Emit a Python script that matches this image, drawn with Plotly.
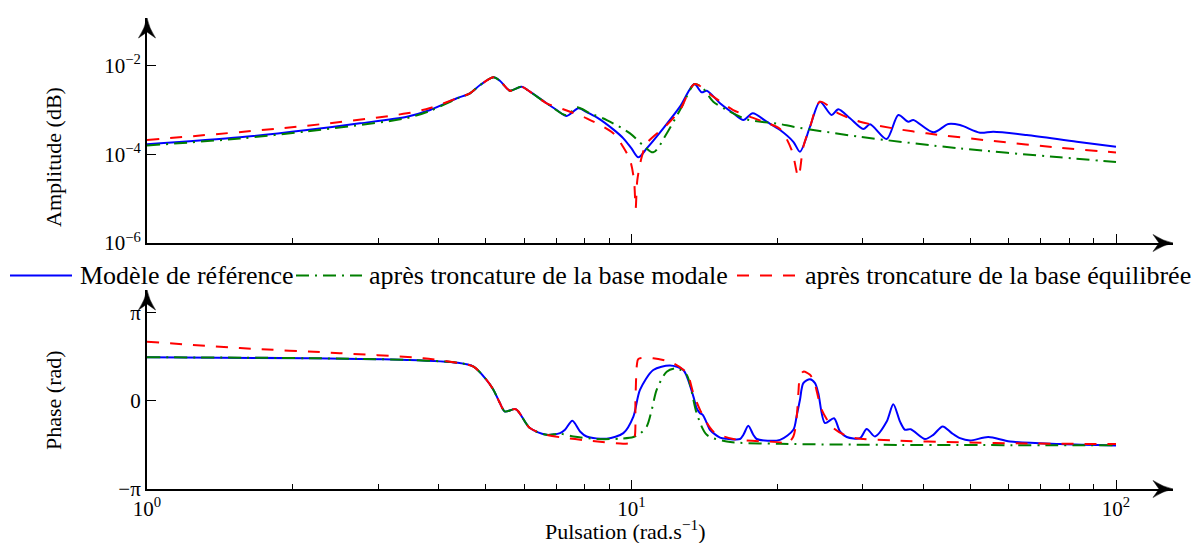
import numpy as np
import plotly.graph_objects as go

# ---------------- data ----------------
# Reference model (amplitude)
w_ref_amp = [1.00, 1.556, 2.14, 2.75, 3.44, 3.84, 4.36, 4.64, 4.87, 5.19, 5.35, 5.61, 5.93, 6.17,
             6.68, 7.01, 7.35, 7.77, 8.08, 8.48, 9.17, 9.62, 10.0, 10.33, 10.75, 11.63, 12.59,
             13.48, 13.96, 14.30, 15.23, 16.22, 17.02, 17.79, 19.01, 20.26, 21.58, 22.27, 23.36,
             24.49, 25.89, 26.72, 28.25, 30.09, 31.07, 33.63, 35.54, 37.27, 38.16, 41.97, 45.07,
             47.64, 52.41, 55.81, 65.42, 82.97, 100.0]
amp_ref = [1.68e-4, 2.42e-4, 3.54e-4, 5.01e-4, 7.06e-4, 1.0e-3, 1.84e-3, 2.38e-3, 3.66e-3, 5.47e-3,
           4.58e-3, 2.73e-3, 3.36e-3, 2.59e-3, 1.42e-3, 1.0e-3, 7.33e-4, 1.09e-3, 9.0e-4, 6.84e-4,
           3.66e-4, 2.30e-4, 1.36e-4, 8.55e-5, 1.36e-4, 3.86e-4, 1.19e-3, 3.86e-3, 2.51e-3, 2.73e-3,
           1.42e-3, 8.43e-4, 5.94e-4, 8.43e-4, 5.45e-4, 3.54e-4, 1.92e-4, 1.15e-4, 4.20e-4, 1.54e-3,
           7.71e-4, 1.04e-3, 6.50e-4, 3.72e-4, 4.75e-4, 2.21e-4, 7.71e-4, 5.45e-4, 5.94e-4, 3.14e-4,
           4.83e-4, 4.58e-4, 3.08e-4, 3.24e-4, 2.73e-4, 1.92e-4, 1.49e-4]

# Modal truncation (amplitude)
w_mod_amp = [1.00, 1.556, 2.14, 3.44, 3.84, 4.36, 4.64, 4.87, 5.19, 5.35, 5.61, 5.93, 6.17, 6.68,
             7.35, 7.71, 8.21, 8.89, 9.93, 10.55, 11.09, 11.88, 12.70, 13.5, 14.0, 14.75, 15.73,
             17.29, 20.26, 21.58, 29.62, 47.64, 76.62, 100.0]
amp_mod = [1.58e-4, 2.28e-4, 3.30e-4, 6.59e-4, 9.6e-4, 1.80e-3, 2.38e-3, 3.66e-3, 5.47e-3, 4.58e-3,
           2.73e-3, 3.36e-3, 2.59e-3, 1.42e-3, 7.6e-4, 1.15e-3, 8.43e-4, 5.94e-4, 2.98e-4, 1.62e-4,
           1.11e-4, 3.24e-4, 1.19e-3, 3.86e-3, 3.2e-3, 1.54e-3, 1.0e-3, 6.16e-4, 4.83e-4, 4.20e-4,
           2.49e-4, 1.36e-4, 8.55e-5, 6.70e-5]

# Balanced truncation (amplitude)
w_bal_amp = [1.00, 2.14, 3.44, 3.84, 4.36, 4.64, 4.87, 5.19, 5.35, 5.61, 5.93, 6.17, 6.68, 7.23,
             8.08, 9.17, 9.62, 9.93, 10.12, 10.20, 10.28, 10.50, 10.75, 11.82, 12.59, 13.5, 14.75,
             16.22, 18.71, 20.26, 21.41, 22.10, 22.63, 23.36, 24.49, 26.72, 29.62, 34.70, 40.67,
             55.81, 76.62, 100.0]
amp_bal = [2.10e-4, 4.43e-4, 8.43e-4, 1.11e-3, 1.84e-3, 2.38e-3, 3.66e-3, 5.47e-3, 4.58e-3, 2.73e-3,
           3.36e-3, 2.59e-3, 1.42e-3, 1.04e-3, 6.50e-4, 2.98e-4, 1.44e-4, 7.43e-5, 2.63e-5, 6.04e-6,
           2.63e-5, 8.83e-5, 1.77e-4, 4.58e-4, 1.0e-3, 3.86e-3, 2.0e-3, 1.0e-3, 5.45e-4, 3.72e-4,
           1.25e-4, 3.12e-5, 1.49e-4, 4.20e-4, 1.54e-3, 8.43e-4, 5.45e-4, 3.86e-4, 2.98e-4, 2.0e-4,
           1.41e-4, 1.10e-4]

# Reference model (phase, rad)
w_ref_ph = [1.00, 2.14, 3.44, 4.36, 4.72, 5.02, 5.19, 5.35, 5.48, 5.77, 6.17, 6.68, 7.12, 7.29, 7.55,
            7.83, 8.08, 8.89, 9.62, 10.09, 10.41, 11.09, 12.01, 12.79, 13.42, 13.63, 13.85, 14.03,
            14.30, 14.52, 15.23, 15.73, 16.75, 17.02, 17.42, 17.84, 18.13, 20.26, 21.58, 21.93,
            22.27, 22.63, 23.36, 23.92, 24.30, 25.08, 26.18, 26.93, 27.81, 29.62, 30.58, 31.81,
            33.63, 34.70, 35.83, 36.69, 37.70, 40.35, 41.97, 43.88, 45.81, 47.64, 49.97, 54.50,
            60.41, 76.62, 100.0]
ph_ref = [1.555, 1.52, 1.46, 1.36, 1.22, 0.75, 0.39, -0.08, -0.38, -0.30, -0.97, -1.21, -1.15, -1.03,
          -0.71, -1.09, -1.27, -1.35, -1.15, -0.56, 0.39, 1.10, 1.26, 1.10, 0.15, -0.26, -0.44, -0.50,
          -0.79, -1.03, -1.31, -1.35, -1.36, -1.21, -0.89, -1.21, -1.36, -1.39, -1.03, -0.52, 0.04,
          0.63, 0.77, 0.63, 0.27, -0.79, -0.62, -1.09, -1.29, -1.33, -1.0, -1.27, -0.74, -0.12,
          -0.74, -1.03, -1.01, -1.36, -1.21, -0.91, -1.15, -1.33, -1.41, -1.29, -1.45, -1.54, -1.59]

# Modal truncation (phase, rad)
w_mod_ph = [1.00, 2.14, 3.44, 4.36, 4.72, 5.02, 5.19, 5.35, 5.48, 5.77, 6.17, 6.68, 7.12, 7.59, 8.48,
            9.47, 10.09, 10.41, 10.75, 11.01, 11.27, 11.82, 12.40, 13.0, 13.31, 13.63, 14.30, 15.73,
            20.26, 35.83, 100.0]
ph_mod = [1.555, 1.52, 1.46, 1.36, 1.22, 0.75, 0.39, -0.08, -0.38, -0.30, -0.97, -1.21, -1.17, -1.27,
          -1.36, -1.35, -1.29, -1.17, -0.91, -0.32, 0.39, 1.04, 1.16, 0.93, 0.32, -0.44, -1.21, -1.45,
          -1.53, -1.57, -1.58]

# Balanced truncation (phase, rad)
w_bal_ph = [1.00, 1.556, 2.50, 3.72, 4.36, 4.72, 5.02, 5.19, 5.35, 5.48, 5.77, 6.17, 6.68, 7.35, 8.21,
            9.62, 9.93, 10.12, 10.19, 10.26, 10.33, 11.09, 12.20, 13.0, 13.42, 13.85, 14.75, 16.22,
            20.26, 20.91, 21.58, 21.93, 22.10, 22.27, 22.63, 23.36, 23.92, 24.70, 26.10, 28.25,
            34.70, 47.64, 65.42, 100.0]
ph_bal = [2.11, 1.88, 1.70, 1.52, 1.36, 1.22, 0.75, 0.39, -0.08, -0.38, -0.30, -0.97, -1.21, -1.33,
          -1.42, -1.53, -1.50, -1.39, 0.04, 1.28, 1.49, 1.52, 1.34, 0.99, 0.27, -0.32, -1.09, -1.36,
          -1.48, -1.54, -1.27, -0.56, 0.27, 0.86, 1.04, 0.93, 0.57, -0.32, -0.97, -1.29, -1.41,
          -1.48, -1.52, -1.54]

labels = ["Modèle de référence",
          "après troncature de la base modale",
          "après troncature de la base équilibrée"]

# ---------------- styling ----------------
BLUE, GREEN, RED = "#0000ff", "#007f00", "#ff0000"
DASH_MOD = "13px,6px,2px,6px"
DASH_BAL = "12px,11px"
FONT = "'Liberation Serif', 'Times New Roman', 'DejaVu Serif', serif"

W, H = 1199, 543
ML, MR, MT, MB = 147, 26, 18, 54
PW, PH = W - ML - MR, H - MT - MB
Y_AMP_BOT, Y_PH_TOP = 243, 290      # pixel rows of the two sub-axes


def paper(x, y):
    """pixel position -> paper coordinates"""
    return (x - ML) / PW, (H - MB - y) / PH


amp_dom = [paper(0, Y_AMP_BOT)[1], 1.0]
ph_dom = [0.0, paper(0, Y_PH_TOP)[1]]

px_per_dec_y = (Y_AMP_BOT - 65.7) / 4.0
amp_top = -6 + (Y_AMP_BOT - MT) / px_per_dec_y
px_per_rad = (H - MB - 312.7) / (2 * np.pi)
ph_top = -np.pi + (H - MB - Y_PH_TOP) / px_per_rad
x_top = np.log10(100) * PW / (1116 - ML)

fig = go.Figure()
series = [
    (w_ref_amp, amp_ref, w_ref_ph, ph_ref, BLUE, "solid"),
    (w_mod_amp, amp_mod, w_mod_ph, ph_mod, GREEN, DASH_MOD),
    (w_bal_amp, amp_bal, w_bal_ph, ph_bal, RED, DASH_BAL),
]
for (wa, a, wp, p, col, dash), name in zip(series, labels):
    fig.add_trace(go.Scatter(x=wa, y=a, mode="lines", name=name, showlegend=False,
                             line=dict(color=col, width=2, dash=dash, shape="spline", smoothing=0.8),
                             xaxis="x", yaxis="y"))
    fig.add_trace(go.Scatter(x=wp, y=p, mode="lines", name=name, showlegend=False,
                             line=dict(color=col, width=2, dash=dash, shape="spline", smoothing=0.8),
                             xaxis="x2", yaxis="y2"))

minor_vals = [m * 10 ** d for d in (0, 1) for m in range(2, 10)]
common_x = dict(type="log", range=[0, x_top], domain=[0, 1], showline=True, linecolor="black",
                linewidth=2, ticks="inside", ticklen=9, tickwidth=1.2, tickcolor="black",
                tickmode="array", tickvals=[1, 10, 100], showgrid=False, zeroline=False,
                minor=dict(ticks="inside", ticklen=5, tickwidth=1.2, tickcolor="black",
                           tickmode="array", tickvals=minor_vals, showgrid=False))
tick_font = dict(family=FONT, size=21, color="black")

fig.update_layout(
    width=W, height=H, margin=dict(l=ML, r=MR, t=MT, b=MB, pad=0),
    paper_bgcolor="white", plot_bgcolor="white", showlegend=False,
    font=dict(family=FONT, color="black"),
    xaxis=dict(anchor="y", showticklabels=False, **common_x),
    xaxis2=dict(anchor="y2", matches="x", showticklabels=True,
                ticktext=["10<sup>0</sup>", "10<sup>1</sup>", "10<sup>2</sup>"],
                tickfont=tick_font, **common_x),
    yaxis=dict(type="log", domain=amp_dom, range=[-6, amp_top], anchor="x",
               showline=True, linecolor="black", linewidth=2, ticks="inside", ticklen=9,
               tickwidth=1.2, tickcolor="black", tickmode="array",
               tickvals=[1e-6, 1e-4, 1e-2],
               ticktext=["10<sup>−6</sup>", "10<sup>−4</sup>", "10<sup>−2</sup>"],
               tickfont=tick_font, showgrid=False, zeroline=False),
    yaxis2=dict(domain=ph_dom, range=[-np.pi, ph_top], anchor="x2",
                showline=True, linecolor="black", linewidth=2, ticks="inside", ticklen=9,
                tickwidth=1.2, tickcolor="black", tickmode="array",
                tickvals=[-np.pi, 0, np.pi], ticktext=["−π", "0", "π"],
                tickfont=tick_font, showgrid=False, zeroline=False),
)


def arrow_path(tx, ty, direction):
    """stealth-style arrow head with its tip at pixel (tx, ty)"""
    L, half, notch = 20, 8.5, 6
    if direction == "up":
        pts = [(tx, ty), (tx - half, ty + L), (tx, ty + L - notch), (tx + half, ty + L)]
        ctrl = [(tx - 2, ty + L * 0.5), (tx + 2, ty + L * 0.5)]
    else:
        pts = [(tx, ty), (tx - L, ty - half), (tx - L + notch, ty), (tx - L, ty + half)]
        ctrl = [(tx - L * 0.5, ty - 2), (tx - L * 0.5, ty + 2)]
    p = [paper(*q) for q in pts]
    c = [paper(*q) for q in ctrl]
    return (f"M {p[0][0]},{p[0][1]} Q {c[0][0]},{c[0][1]} {p[1][0]},{p[1][1]} "
            f"L {p[2][0]},{p[2][1]} L {p[3][0]},{p[3][1]} "
            f"Q {c[1][0]},{c[1][1]} {p[0][0]},{p[0][1]} Z")


shapes = []
for (tx, ty, d) in [(ML, MT, "up"), (ML, Y_PH_TOP, "up"),
                    (W - MR, Y_AMP_BOT, "right"), (W - MR, H - MB, "right")]:
    shapes.append(dict(type="path", path=arrow_path(tx, ty, d), xref="paper", yref="paper",
                       fillcolor="black", line=dict(color="black", width=0.5), layer="above"))

# legend row between the two panels
LEG_Y = 275.5
legend_items = [(10, 72, 78, BLUE, "solid"), (296, 362, 367, GREEN, DASH_MOD),
                (737, 797, 803, RED, DASH_BAL)]
annotations = []
for (x0, x1, xt, col, dash), text in zip(legend_items, labels):
    p0, p1 = paper(x0, LEG_Y), paper(x1, LEG_Y)
    shapes.append(dict(type="line", xref="paper", yref="paper", x0=p0[0], y0=p0[1],
                       x1=p1[0], y1=p1[1], line=dict(color=col, width=2, dash=dash)))
    pt = paper(xt, LEG_Y)
    annotations.append(dict(text=text, x=pt[0], y=pt[1], xref="paper", yref="paper",
                            xanchor="left", yanchor="middle", showarrow=False,
                            font=dict(family=FONT, size=26, color="black")))

title_font = dict(family=FONT, size=22, color="black")
for text, (x, y), ang in [("Amplitude (dB)", (53, 157), -90), ("Phase (rad)", (53, 400), -90),
                          ("Pulsation (rad.s<sup>−1</sup>)", (625.5, 530), 0)]:
    p = paper(x, y)
    annotations.append(dict(text=text, x=p[0], y=p[1], xref="paper", yref="paper",
                            xanchor="center", yanchor="middle", showarrow=False,
                            textangle=ang, font=title_font))

fig.update_layout(shapes=shapes, annotations=annotations)
fig.write_html("out.html")
